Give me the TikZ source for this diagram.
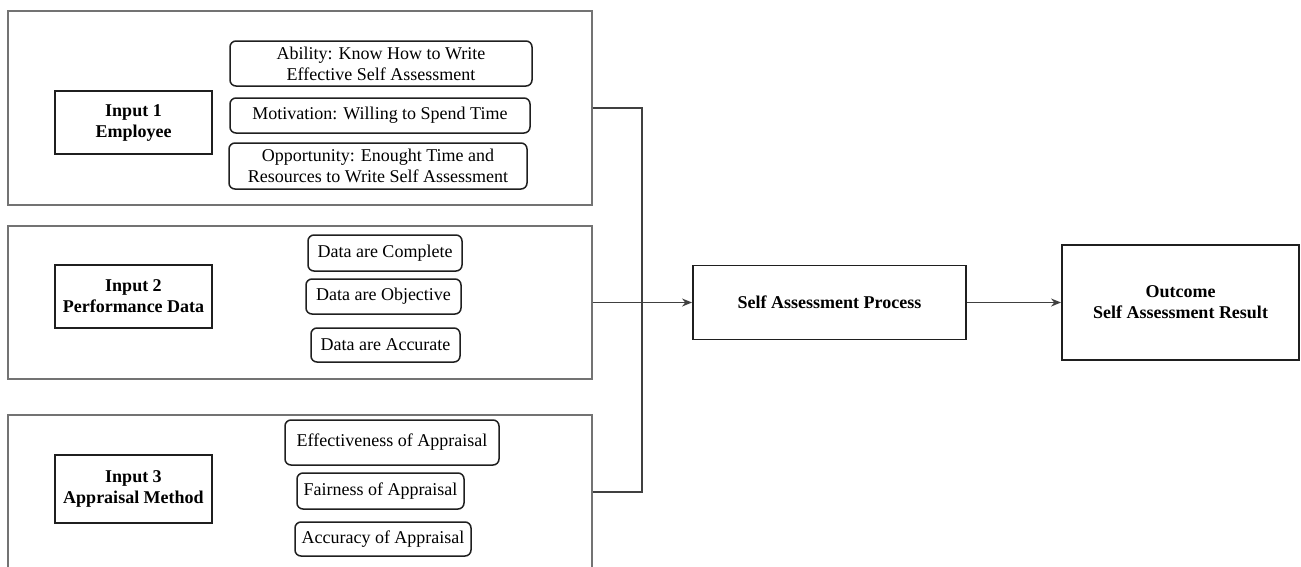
\documentclass[tikz,border=0pt]{standalone}
\usepackage{fontspec}
\setmainfont{Liberation Serif}
\usetikzlibrary{arrows.meta}
\begin{document}
\begin{tikzpicture}[x=1pt,y=-1pt,
  every node/.style={font=\fontsize{18}{21}\selectfont, inner sep=0pt, align=center},
  outerbox/.style={draw=black!55, line width=1.1pt, rectangle, minimum width=584pt},
  inputbox/.style={draw=black!88, line width=1.7pt, rectangle, font=\fontsize{18}{21}\selectfont\bfseries},
  itembox/.style={draw=black!88, line width=1.5pt, rectangle, rounded corners=6pt},
  mainbox/.style={draw=black!88, line width=1.9pt, rectangle, font=\fontsize{18}{21}\selectfont\bfseries},
  link/.style={draw=black!75, line width=1.2pt},
  arr/.style={link, -{Stealth[length=10pt,width=8pt]}}]
\useasboundingbox (0,0) rectangle (1301,566);
\clip (0,0) rectangle (1301,566);
\fill[white] (0,0) rectangle (1301,566);

% outer groups
\node[outerbox, minimum height=194pt] (b1) at (300,108) {};
\node[outerbox, minimum height=153pt] (b2) at (300,302.5) {};
\node[outerbox, minimum height=154pt] (b3) at (300,492) {};

% input boxes
\node[inputbox, minimum width=157pt, minimum height=63pt] (in1) at (133.5,122.5) {Input 1\\Employee};
\node[inputbox, minimum width=157pt, minimum height=63pt] (in2) at (133.5,296.5) {Input 2\\Performance Data};
\node[inputbox, minimum width=157pt, minimum height=68pt] (in3) at (133.5,489) {Input 3\\Appraisal Method};

% items group 1
\node[itembox, minimum width=302pt, minimum height=45pt] (abil) at (381,63.5) {Ability: Know How to Write\\Effective Self Assessment};
\node[itembox, minimum width=300pt, minimum height=35pt] (moti) at (380,115.5) {Motivation: Willing to Spend Time};
\node[itembox, minimum width=298pt, minimum height=46pt] (oppo) at (378,166) {Opportunity: Enought Time and\\Resources to Write Self Assessment};

% items group 2
\node[itembox, minimum width=154pt, minimum height=36pt] (comp) at (385,253) {Data are Complete};
\node[itembox, minimum width=155pt, minimum height=35pt] (obje) at (383.5,296.5) {Data are Objective};
\node[itembox, minimum width=149pt, minimum height=34pt] (accu) at (385.5,345) {Data are Accurate};

% items group 3
\node[itembox, minimum width=214pt, minimum height=45pt] (effe) at (392,442.5) {Effectiveness of Appraisal};
\node[itembox, minimum width=167pt, minimum height=36pt] (fair) at (380.5,491) {Fairness of Appraisal};
\node[itembox, minimum width=176pt, minimum height=34pt] (accy) at (383,539) {Accuracy of Appraisal};

% main boxes
\node[mainbox, minimum width=273pt, minimum height=74pt] (proc) at (829.5,302.5) {Self Assessment Process};
\node[mainbox, minimum width=237pt, minimum height=115pt] (outc) at (1180.5,302.5) {Outcome\\Self Assessment Result};

% connectors
\coordinate (j) at (642,0);
\draw[link] (b1.east) -- (b1.east -| j) -- (b3.east -| j) -- (b3.east);
\draw[arr] (b2.east) -- (proc.west);
\draw[arr] (proc.east) -- (outc.west);
\end{tikzpicture}
\end{document}
